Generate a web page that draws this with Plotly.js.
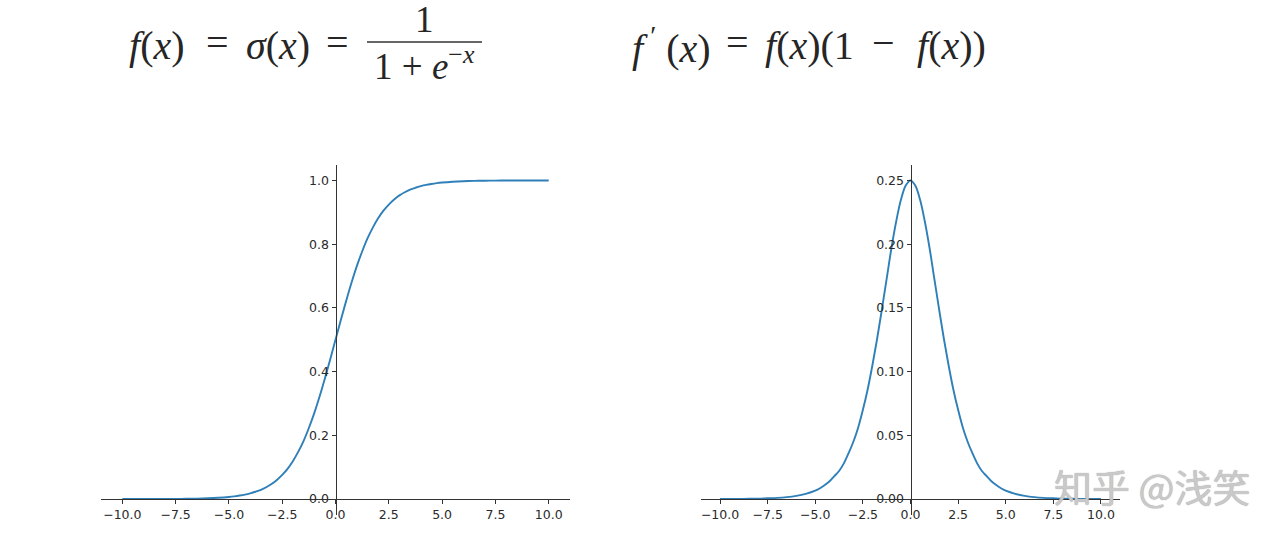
<!DOCTYPE html>
<html>
<head>
<meta charset="utf-8">
<script src="https://cdn.plot.ly/plotly-3.0.1.min.js"></script>
<style>html,body{margin:0;padding:0;background:#fff;}#chart{width:1286px;height:540px;}</style>
</head>
<body>
<div id="chart"></div>
<script>
// x samples
const xs = [-10,-9.5,-9,-8.5,-8,-7.5,-7,-6.5,-6,-5.5,
            -5,-4.75,-4.5,-4.25,-4,-3.75,-3.5,-3.25,-3,-2.75,-2.5,-2.25,-2,-1.75,-1.5,-1.25,-1,-0.75,-0.5,-0.25,
            0,0.25,0.5,0.75,1,1.25,1.5,1.75,2,2.25,2.5,2.75,3,3.25,3.5,3.75,4,4.25,4.5,4.75,5,
            5.5,6,6.5,7,7.5,8,8.5,9,9.5,10];
// sigmoid curve values
const sigmoidVals = [0.0000,0.0001,0.0001,0.0002,0.0003,0.0006,0.0009,0.0015,0.0025,0.0041,
                     0.0067,0.0086,0.011,0.014,0.018,0.023,0.029,0.037,0.047,0.060,0.076,0.095,0.119,0.148,0.182,0.223,0.269,0.321,0.378,0.438,
                     0.500,0.562,0.622,0.679,0.731,0.777,0.818,0.852,0.881,0.905,0.924,0.940,0.953,0.963,0.971,0.977,0.982,0.986,0.989,0.9914,0.9933,
                     0.9959,0.9975,0.9985,0.9991,0.9994,0.9997,0.9998,0.9999,0.9999,1.0];
// derivative curve values
const derivVals = [0.0000,0.0001,0.0001,0.0002,0.0003,0.0006,0.0009,0.0015,0.0025,0.0041,
                   0.0066,0.0085,0.011,0.014,0.018,0.022,0.028,0.036,0.045,0.056,0.070,0.086,0.105,0.126,0.149,0.173,0.197,0.218,0.235,0.246,
                   0.250,0.246,0.235,0.218,0.197,0.173,0.149,0.126,0.105,0.086,0.070,0.056,0.045,0.036,0.028,0.022,0.018,0.014,0.011,0.0085,0.0066,
                   0.0041,0.0025,0.0015,0.0009,0.0006,0.0003,0.0002,0.0001,0.0001,0.0000];
const xTicks = [-10,-7.5,-5,-2.5,0,2.5,5,7.5,10];
const yTicksLeft = [0,0.2,0.4,0.6,0.8,1.0];
const yTicksRight = [0,0.05,0.10,0.15,0.20,0.25];
const watermark = "知乎 @浅笑";
// formula pieces (text, centre x in px, centre y in px, size)
const formulaPieces = [
  ["<i>f</i>(<i>x</i>)", 157, 45, 40],
  ["=", 217, 43, 40],
  ["<i>σ</i>(<i>x</i>)", 278, 45, 40],
  ["=", 337, 43, 40],
  ["1", 424, 20, 37],
  ["1 + <i>e</i><sup>−<i>x</i></sup>", 424, 64, 37],
  ["<i>f</i><sup> ′</sup> (<i>x</i>)", 671, 45, 40],
  ["=", 737, 43, 40],
  ["<i>f</i>(<i>x</i>)(1", 809, 45, 40],
  ["−", 883, 43, 40],
  ["<i>f</i>(<i>x</i>))", 951, 45, 40]
];

const W = 1286, H = 540;
const px = v => v / W;
const py = v => 1 - v / H;

const lineColor = '#2f7fb8';
const axColor = '#333333';
const tickFont = {family: 'DejaVu Sans, sans-serif', size: 12.5, color: '#2a2a2a'};

const yDom = [py(515), py(164.5)];
const yRangeL = [-0.05, 1.05];
const yRangeR = [-0.0125, 0.2625];
const xRange = [-11, 11];
const xDomL = [px(101), px(570)];
const xDomR = [px(701), px(1120)];
const zeroPos = (dom, rng) => dom[0] + (0 - rng[0]) / (rng[1] - rng[0]) * (dom[1] - dom[0]);

const data = [
  {x: xs, y: sigmoidVals, type: 'scatter', mode: 'lines', line: {color: lineColor, width: 1.9, shape: 'spline', smoothing: 1}, xaxis: 'x', yaxis: 'y', hoverinfo: 'skip'},
  {x: xs, y: derivVals, type: 'scatter', mode: 'lines', line: {color: lineColor, width: 1.9, shape: 'spline', smoothing: 1}, xaxis: 'x2', yaxis: 'y2', hoverinfo: 'skip'}
];

const axCommon = {showgrid: false, zeroline: false, showline: true, linecolor: axColor, linewidth: 1,
  ticks: 'outside', ticklen: 4, tickwidth: 1, tickcolor: axColor, tickfont: tickFont, fixedrange: true};

const annotations = formulaPieces.map(p => ({
  text: p[0], xref: 'paper', yref: 'paper', x: px(p[1]), y: py(p[2]), xanchor: 'center', yanchor: 'middle',
  showarrow: false, font: {family: 'Liberation Serif, serif', size: p[3], color: '#262626'}
}));
annotations.push({text: watermark, xref: 'paper', yref: 'paper', x: px(1152), y: py(485), xanchor: 'center', yanchor: 'middle',
  showarrow: false, font: {family: 'Noto Sans CJK SC, sans-serif', size: 38, color: 'rgba(205,205,205,0.95)', shadow: '0 0 1px #888'}});

const layout = {
  width: W, height: H, margin: {l: 0, r: 0, t: 0, b: 0},
  paper_bgcolor: '#fff', plot_bgcolor: 'rgba(0,0,0,0)', showlegend: false,
  xaxis: Object.assign({}, axCommon, {domain: xDomL, range: xRange, tickvals: xTicks, tickformat: '.1f',
    anchor: 'free', position: zeroPos(yDom, yRangeL)}),
  yaxis: Object.assign({}, axCommon, {domain: yDom, range: yRangeL, tickvals: yTicksLeft, tickformat: '.1f',
    anchor: 'free', position: zeroPos(xDomL, xRange)}),
  xaxis2: Object.assign({}, axCommon, {domain: xDomR, range: xRange, tickvals: xTicks, tickformat: '.1f',
    anchor: 'free', position: zeroPos(yDom, yRangeR)}),
  yaxis2: Object.assign({}, axCommon, {domain: yDom, range: yRangeR, tickvals: yTicksRight, tickformat: '.2f',
    anchor: 'free', position: zeroPos(xDomR, xRange)}),
  shapes: [
    {type: 'line', xref: 'paper', yref: 'paper', x0: px(367), x1: px(482), y0: py(42), y1: py(42),
     line: {color: '#333', width: 1.4}}
  ],
  annotations: annotations
};

Plotly.newPlot('chart', data, layout, {displayModeBar: false, staticPlot: true});
</script>
</body>
</html>
